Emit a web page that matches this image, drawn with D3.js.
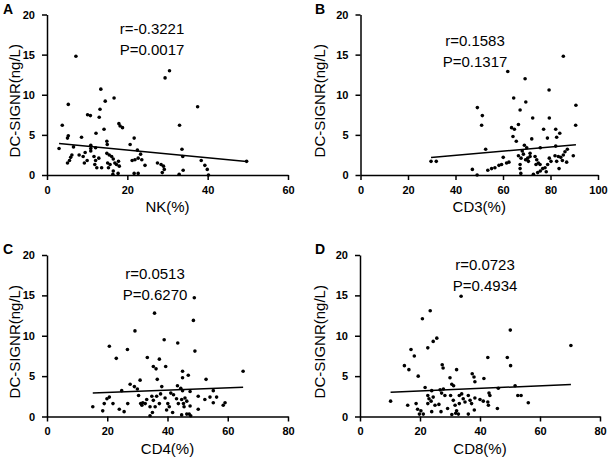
<!DOCTYPE html>
<html><head><meta charset="utf-8">
<script src="https://cdn.jsdelivr.net/npm/d3@7"></script>
<style>body{margin:0;background:#fff}svg{display:block}text{font-family:"Liberation Sans",Arial,sans-serif}</style>
</head><body><svg id="c" width="609" height="462"></svg>
<script>
// ---- data ----
const yTicks = [0, 5, 10, 15, 20];
const yTitle = "DC-SIGNR(ng/L)";
const panelLetters = ["A", "B", "C", "D"];
const xTitles = ["NK(%)", "CD3(%)", "CD4(%)", "CD8(%)"];
const xMaxes = [60, 100, 80, 80];
const rTexts = ["r=-0.3221", "r=0.1583", "r=0.0513", "r=0.0723"];
const pTexts = ["P=0.0017", "P=0.1317", "P=0.6270", "P=0.4934"];
// fitted line: [intercept, slope]
const fits = [[4.07, -0.0482], [1.42, 0.0258], [2.67, 0.0148], [2.84, 0.016]];

const nkPoints = [[7.2,14.8],[30.5,13.0],[29.4,12.1],[13.4,10.7],[16.7,9.6],[14.5,9.2],[5.3,8.8],[37.5,8.5],[13.2,8.2],[10.1,7.5],[10.8,7.4],[13.0,7.2],[3.8,6.2],[17.9,6.4],[18.2,6.1],[18.8,5.9],[33.0,6.2],[14.2,5.7],[12.2,5.2],[5.3,4.9],[5.1,4.6],[8.6,4.7],[21.7,4.6],[20.7,3.8],[14.9,4.2],[15.0,3.8],[3.0,3.3],[6.6,3.5],[10.9,3.7],[10.9,3.3],[10.9,3.0],[12.1,3.4],[22.5,3.1],[33.6,3.2],[9.5,2.8],[8.0,2.5],[6.2,2.5],[5.9,2.2],[5.6,1.8],[5.1,1.5],[9.0,2.3],[10.0,1.8],[9.3,1.5],[11.7,2.3],[12.9,2.1],[12.1,1.8],[11.9,1.3],[14.9,2.7],[15.5,2.5],[16.1,2.3],[16.5,2.0],[16.9,1.5],[17.3,1.3],[17.8,1.7],[18.0,1.1],[16.5,0.5],[15.1,1.5],[15.7,1.3],[15.3,0.9],[21.2,1.8],[21.9,1.9],[23.6,1.9],[23.3,2.6],[22.7,2.1],[24.4,1.2],[21.7,0.2],[22.7,0.2],[27.5,1.5],[28.4,1.3],[29.0,1.1],[29.2,0.7],[33.8,2.3],[33.9,0.6],[32.9,0.1],[38.4,1.8],[39.3,1.2],[39.9,0.7],[40.2,0.0],[49.7,1.7],[16.4,0.1],[17.7,0.2],[28.7,0.3],[13.6,0.9],[12.4,0.9]];

const cd3Points = [[85.4,14.8],[62.0,12.9],[69.3,12.0],[79.4,10.6],[64.5,9.6],[69.6,9.1],[90.7,8.7],[49.2,8.4],[67.2,8.1],[51.3,7.4],[72.5,7.1],[79.5,7.1],[51.0,6.2],[66.5,6.3],[63.6,5.9],[64.8,5.7],[90.6,6.2],[77.1,5.7],[82.2,5.7],[83.9,5.2],[64.2,4.8],[65.6,4.2],[72.1,4.5],[78.7,4.6],[82.6,4.7],[69.0,3.7],[70.0,3.4],[75.7,3.4],[82.2,3.6],[52.7,3.2],[29.7,1.7],[31.9,1.7],[47.1,0.7],[49.1,0.0],[53.6,0.6],[55.2,0.8],[56.6,0.9],[58.3,1.2],[59.4,1.3],[61.5,1.5],[62.5,1.6],[60.1,2.2],[66.5,2.4],[67.6,2.1],[68.6,2.6],[69.5,1.9],[70.4,2.1],[71.4,2.3],[70.7,1.7],[67.2,1.3],[67.2,0.8],[67.5,0.2],[73.5,2.3],[74.2,1.9],[74.9,1.5],[75.6,1.3],[73.9,1.3],[72.8,0.1],[74.6,0.3],[75.7,0.5],[76.7,0.8],[77.7,0.9],[78.8,1.3],[78.2,0.4],[79.5,2.1],[80.2,1.7],[81.9,2.4],[83.3,2.3],[82.6,1.7],[84.3,2.2],[85.4,2.5],[86.1,2.9],[87.1,3.2],[86.8,1.6],[85.0,1.8],[83.6,0.8],[89.6,2.4],[68.1,3.0],[71.4,2.7]];

const cd4Points = [[48.9,14.7],[35.7,12.8],[48.6,11.9],[29.2,10.6],[38.9,9.5],[43.4,9.1],[20.7,8.7],[26.7,8.3],[49.1,8.1],[23.0,7.2],[33.3,7.3],[37.3,7.1],[35.3,6.2],[36.2,5.9],[39.4,6.2],[65.1,5.6],[45.0,5.6],[46.9,5.1],[45.0,4.8],[36.6,4.6],[52.8,4.6],[30.9,4.5],[27.6,4.0],[29.0,3.7],[30.0,3.4],[38.1,3.7],[43.3,3.8],[44.4,3.5],[45.0,3.2],[24.8,3.2],[47.5,3.1],[55.2,3.2],[15.2,1.2],[18.5,0.7],[19.0,1.6],[19.9,2.2],[20.7,2.4],[21.9,1.6],[24.0,0.9],[25.6,0.6],[26.8,1.6],[30.4,2.6],[31.1,1.6],[31.8,1.7],[32.6,1.6],[31.5,1.4],[33.1,2.1],[34.2,1.2],[34.8,2.5],[35.3,2.0],[36.4,2.5],[37.3,1.6],[35.9,1.2],[35.0,0.5],[34.2,0.1],[37.7,2.8],[39.2,2.3],[40.1,1.6],[40.6,1.2],[41.7,0.5],[39.7,0.8],[41.1,2.9],[42.0,2.7],[43.0,2.2],[43.6,1.6],[44.7,2.1],[45.3,1.6],[45.8,2.3],[46.4,1.9],[45.5,1.2],[44.7,0.2],[46.4,0.3],[47.2,0.3],[47.7,0.1],[47.5,1.3],[50.2,2.5],[52.4,2.1],[54.1,2.4],[55.2,1.7],[56.3,2.4],[58.5,1.4],[59.1,1.7],[50.2,0.9]];

const cd8Points = [[33.7,14.9],[23.4,13.1],[20.8,12.1],[50.1,10.7],[25.6,9.7],[24.4,9.3],[22.6,8.5],[70.3,8.8],[17.0,8.3],[18.1,7.5],[42.6,7.3],[49.1,7.3],[14.8,6.3],[16.3,5.8],[27.4,6.4],[27.7,6.0],[32.2,5.8],[50.2,6.3],[19.4,5.0],[37.4,5.3],[38.0,4.9],[38.3,4.3],[30.0,4.8],[41.3,4.7],[30.6,4.0],[31.2,3.8],[21.7,3.6],[51.7,3.8],[46.1,3.5],[10.2,1.9],[15.9,1.4],[18.7,1.6],[19.2,0.9],[19.8,0.3],[21.1,0.3],[20.3,0.7],[22.6,2.6],[23.0,2.2],[23.7,1.9],[22.6,1.6],[24.4,2.4],[25.0,1.4],[23.9,0.6],[23.9,3.2],[26.7,3.3],[27.8,3.4],[26.3,1.5],[27.0,0.6],[27.2,2.9],[28.3,2.6],[29.2,1.0],[30.2,2.6],[31.1,2.0],[31.7,1.4],[32.2,0.7],[32.8,0.3],[31.9,0.4],[33.1,2.6],[33.9,2.8],[34.4,2.2],[35.0,1.8],[36.1,2.6],[36.7,2.0],[37.2,1.6],[38.3,2.3],[36.1,0.3],[38.1,0.8],[33.1,1.6],[40.0,2.1],[41.1,1.9],[42.6,1.8],[43.3,2.6],[43.0,2.9],[42.8,1.4],[45.8,1.0],[52.6,2.6],[53.7,2.6],[56.1,1.7],[30.6,0.25]];

const allPoints = [nkPoints, cd3Points, cd4Points, cd8Points];

// ---- layout ----
const panels = [
  {l: 47, r: 288, t: 14.5, b: 175, statX: 152, statY: 28, lx: 3, ly: 14, ytx: 20},
  {l: 360.5, r: 598, t: 14.5, b: 175, statX: 475, statY: 40, lx: 315, ly: 14, ytx: 325},
  {l: 47, r: 288, t: 255, b: 416.5, statX: 155, statY: 273, lx: 3, ly: 254, ytx: 20},
  {l: 360, r: 600, t: 255, b: 416.5, statX: 485, statY: 264, lx: 315, ly: 254, ytx: 325}
];

const svg = d3.select("#c");
svg.append("rect").attr("width", 609).attr("height", 462).attr("fill", "#fff");

panels.forEach((p, i) => {
  const x = d3.scaleLinear().domain([0, xMaxes[i]]).range([p.l, p.r]);
  const y = d3.scaleLinear().domain([0, 20]).range([p.b, p.t]);
  const g = svg.append("g");

  const xa = g.append("g").attr("transform", `translate(0,${p.b})`)
    .call(d3.axisBottom(x).tickValues(d3.range(0, xMaxes[i] + 1, 20)).tickSize(5).tickPadding(6).tickSizeOuter(0));
  const ya = g.append("g").attr("transform", `translate(${p.l},0)`)
    .call(d3.axisLeft(y).tickValues(yTicks).tickSize(5).tickPadding(7).tickSizeOuter(0));
  [xa, ya].forEach(a => {
    a.select(".domain").attr("stroke", "#000").attr("stroke-width", 1.5);
    a.selectAll(".tick line").attr("stroke", "#000").attr("stroke-width", 1.5);
    a.selectAll(".tick text").attr("fill", "#000").style("font-size", "11px").style("font-weight", "bold")
      .style("font-family", "'Liberation Sans', Arial, sans-serif");
  });

  // points
  g.append("g").selectAll("circle").data(allPoints[i]).join("circle")
    .attr("cx", d => x(d[0])).attr("cy", d => y(d[1])).attr("r", 1.8).attr("fill", "#000");

  // fit line across data extent
  const ext = d3.extent(allPoints[i], d => d[0]);
  const [b0, b1] = fits[i];
  g.append("line")
    .attr("x1", x(ext[0])).attr("y1", y(b0 + b1 * ext[0]))
    .attr("x2", x(ext[1])).attr("y2", y(b0 + b1 * ext[1]))
    .attr("stroke", "#000").attr("stroke-width", 1.5);

  // stats
  g.append("text").attr("x", p.statX).attr("y", p.statY + 5.5).attr("text-anchor", "middle")
    .style("font-size", "15px").text(rTexts[i]);
  g.append("text").attr("x", p.statX).attr("y", p.statY + 26.5).attr("text-anchor", "middle")
    .style("font-size", "15px").text(pTexts[i]);

  // titles
  g.append("text").attr("x", (p.l + p.r) / 2).attr("y", p.b + 37).attr("text-anchor", "middle")
    .style("font-size", "15px").text(xTitles[i]);
  g.append("text").attr("transform", `translate(${p.ytx},${(p.t + p.b) / 2 + 6}) rotate(-90)`)
    .attr("text-anchor", "middle").style("font-size", "15px").text(yTitle);

  g.append("text").attr("x", p.lx).attr("y", p.ly).style("font-size", "14px").style("font-weight", "bold")
    .text(panelLetters[i]);
});
</script></body></html>
